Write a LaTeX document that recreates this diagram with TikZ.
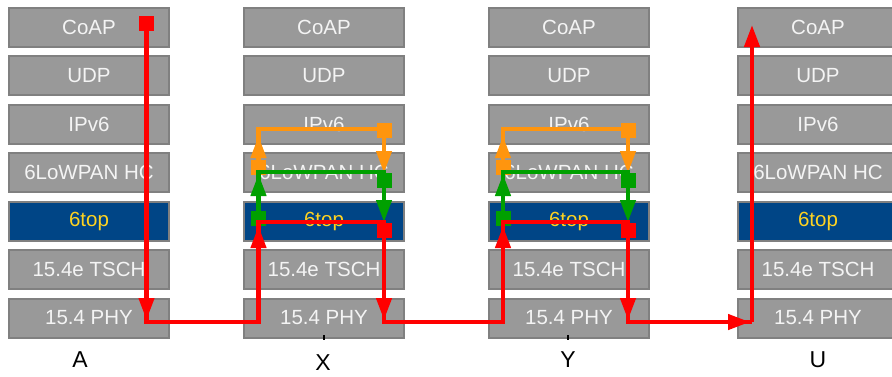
\documentclass[tikz,border=0pt]{standalone}
\usepackage{fontspec}
\setmainfont{Liberation Sans}
\usetikzlibrary{arrows.meta}
\definecolor{boxgray}{HTML}{999999}
\definecolor{boxedge}{HTML}{808080}
\definecolor{boxtext}{HTML}{F4F4F4}
\definecolor{toptext}{HTML}{FFD320}
\definecolor{topblue}{HTML}{004586}
\definecolor{myred}{HTML}{FF0000}
\definecolor{mygreen}{HTML}{00A000}
\definecolor{myorange}{HTML}{FF950E}
\begin{document}
\begin{tikzpicture}[x=1pt,y=-1pt,
 layer/.style={draw=boxedge, line width=2pt, fill=boxgray, text=boxtext,
   minimum width=160pt, minimum height=39pt, inner sep=0pt,
   font=\fontsize{20.5}{24}\selectfont},
 toplayer/.style={layer, fill=topblue, text=toptext},
 sq/.style={fill=#1, minimum size=15pt, inner sep=0pt},
 flow/.style={line width=4.3pt, draw=#1, line join=miter},
 tip/.style={line width=4.3pt, draw=#1, -{Triangle[length=22pt,width=15pt]}},
 lbl/.style={font=\fontsize{23}{27}\selectfont, text=black, inner sep=0pt}
]
\useasboundingbox (0,0) rectangle (892,376);
\fill[white] (0,0) rectangle (892,376);

% protocol stacks
\foreach \s/\x in {A/89, X/324, Y/569, U/818}{
  \foreach \n/\t/\st [count=\i from 0] in {coap/CoAP/layer, udp/UDP/layer, ipv6/IPv6/layer,
      lowpan/6LoWPAN HC/layer, sixtop/6top/toplayer, tsch/15.4e TSCH/layer, phy/15.4 PHY/layer}{
    \node[\st] (\s-\n) at (\x, 27+48.5*\i) {\t};
  }
}

% labels
\node[lbl] (labA) at (80,360) {A};
\node[lbl] (labX) at (323,363) {X};
\node[lbl] (labY) at (568,360) {Y};
\node[lbl] (labU) at (818,360) {U};
\coordinate (tX1) at (324,335); \coordinate (tX2) at (324,340);
\coordinate (tY1) at (568,335); \coordinate (tY2) at (568,340);
\draw[line width=1.2pt] (tX1) -- (tX2);
\draw[line width=1.2pt] (tY1) -- (tY2);

% relay loops in X and Y
\foreach \k/\L/\R in {X/258.5/384, Y/503/628}{
  % orange (IPv6 level)
  \node[sq=myorange] (oL\k) at (\L,167) {};
  \node[sq=myorange] (oR\k) at (\R,130) {};
  \coordinate (o1\k) at (\L,129);
  \coordinate (o2\k) at (\R,129);
  \coordinate (o3\k) at (\R,173);
  \draw[flow=myorange] (oL\k.center) -- (o1\k) -- (o2\k) -- (oR\k.center);
  \draw[tip=myorange, shorten >=7pt] (oL\k.center) -- (o1\k);
  \draw[tip=myorange] (oR\k.center) -- (o3\k);
  % green (6LoWPAN level)
  \node[sq=mygreen] (gL\k) at (\L,218) {};
  \node[sq=mygreen] (gR\k) at (\R,180) {};
  \coordinate (g1\k) at (\L,172);
  \coordinate (g2\k) at (\R,172);
  \coordinate (g3\k) at (\R,222);
  \draw[flow=mygreen] (gL\k.center) -- (g1\k) -- (g2\k) -- (gR\k.center);
  \draw[tip=mygreen, shorten >=2pt] (gL\k.center) -- (g1\k);
  \draw[tip=mygreen] (gR\k.center) -- (g3\k);
}

% red end-to-end path
\node[sq=myred] (rA) at (146.5,23.5) {};
\coordinate (rA1) at (146.5,322);
\coordinate (rX0) at (258.5,322);
\coordinate (rX1) at (258.5,222);
\coordinate (rX2) at (384,222);
\coordinate (rX3) at (384,322);
\coordinate (rY0) at (503,322);
\coordinate (rY1) at (503,222);
\coordinate (rY2) at (628,222);
\coordinate (rY3) at (628,322);
\coordinate (rU0) at (752,322);
\coordinate (rU1) at (752,25);
\draw[flow=myred] (rA.center) -- (rA1) -- (rX0) -- (rX1) -- (rX2) -- (rX3)
  -- (rY0) -- (rY1) -- (rY2) -- (rY3) -- (rU0);
\node[sq=myred] (rRX) at (384,230) {};
\node[sq=myred] (rRY) at (628,230) {};
\draw[tip=myred, shorten >=2pt] (rA.center) -- (rA1);
\draw[tip=myred, shorten >=4pt] (rX0) -- (rX1);
\draw[tip=myred, shorten >=2pt] (rRX.center) -- (rX3);
\draw[tip=myred, shorten >=4pt] (rY0) -- (rY1);
\draw[tip=myred, shorten >=2pt] (rRY.center) -- (rY3);
\draw[tip=myred, shorten >=2pt] (rY3) -- (rU0);
\draw[tip=myred] (rU0) -- (rU1);
\end{tikzpicture}
\end{document}
